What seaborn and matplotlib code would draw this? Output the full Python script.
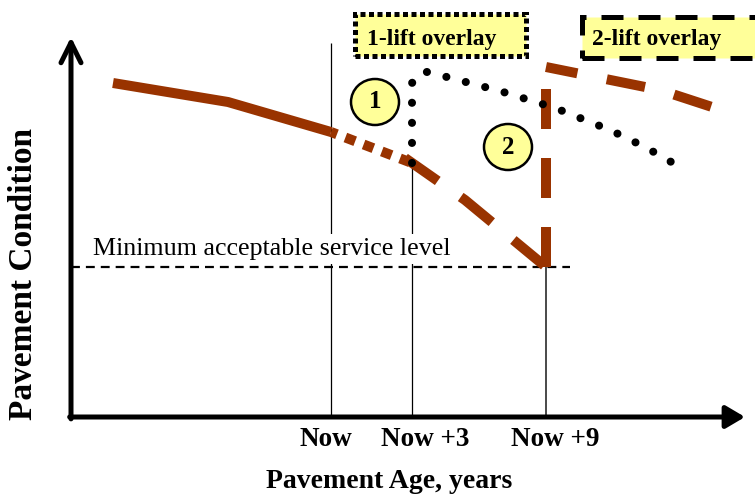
import matplotlib
matplotlib.use("Agg")
import matplotlib.pyplot as plt
from matplotlib.patches import Rectangle, Ellipse
import seaborn as sns

# ---------------- data ----------------
# x = pavement age (arbitrary units), y = pavement condition (arbitrary units)
age_history = [42, 157, 260]
cond_history = [334, 315, 285]

age_defer = [260, 341]
cond_defer = [285, 254]

age_decline = [334, 394, 475]
cond_decline = [259, 217, 150]

age_2lift_jump = [475, 475]
cond_2lift_jump = [150, 328]

age_2lift = [475, 589, 641]
cond_2lift = [350, 327, 310]

age_1lift = [341, 341, 352, 372, 429, 484, 539, 574, 609]
cond_1lift = [254, 334, 346, 341, 326, 309, 287, 270, 250]

min_service_level = 150
min_line_end = 499

marker_ages = [260, 341, 475]          # Now, Now +3, Now +9 reference lines
marker_tops = [374, 254, 150]
tick_positions = [255, 354, 484]
tick_labels = ["Now", "Now +3", "Now +9"]

x_max = 674
y_max = 377

BROWN = "#993300"
YELLOW = "#FFFF99"

# ---------------- style ----------------
sns.set_style("white")
plt.rcParams["font.family"] = ["Liberation Serif", "DejaVu Serif"]
plt.rcParams["text.color"] = "black"
plt.rcParams["axes.labelcolor"] = "black"
plt.rcParams["xtick.color"] = "black"
plt.rcParams["ytick.color"] = "black"

fig = plt.figure(figsize=(7.55, 4.95), dpi=100)
ax = fig.add_axes([71 / 755, 78 / 495, 674 / 755, 377 / 495])
ax.set_xlim(0, x_max)
ax.set_ylim(0, y_max)

# reference vertical lines
ax.vlines(marker_ages, 0, marker_tops, colors=["black", "black", "#3a3a3a"],
          linewidths=[0.9, 0.9, 1.3], zorder=1)

# minimum service level
ax.text(22, 162, "Minimum acceptable service level", fontsize=18.7,
        ha="left", va="baseline", zorder=2,
        bbox=dict(boxstyle="square,pad=0.17", fc="white", ec="none"))
ax.hlines(min_service_level, 0, min_line_end, colors="black", linewidth=1.6,
          linestyles=[(0, (4.0, 2.7))], zorder=3)

# brown condition curves
def brown(xs, ys, ls):
    sns.lineplot(x=xs, y=ys, sort=False, estimator=None, color=BROWN,
                 linewidth=7.2, ax=ax, zorder=4)
    ln = ax.lines[-1]
    ln.set_linestyle(ls)
    ln.set_solid_capstyle("butt")
    ln.set_dash_capstyle("butt")

brown(age_history, cond_history, "-")
brown(age_defer, cond_defer, (0.41, (1.05, 0.9)))
brown(age_decline, cond_decline, (0, (4.0, 2.8)))
brown(age_2lift_jump, cond_2lift_jump, (0, (4.0, 2.9)))
brown(age_2lift, cond_2lift, (0.7, (3.9, 3.0)))

# 1-lift overlay dotted path
sns.lineplot(x=age_1lift, y=cond_1lift, sort=False, estimator=None,
             color="black", linewidth=5.8, ax=ax, zorder=5)
dl = ax.lines[-1]
dl.set_linestyle((0, (0.01, 2.48)))
dl.set_dash_capstyle("round")

# numbered circles
for (cx, cy), lab in [((304, 315), "1"), ((437, 270), "2")]:
    ax.add_patch(Ellipse((cx, cy), 48, 46, fc=YELLOW, ec="black", lw=1.8,
                         zorder=6, clip_on=False))
    ax.text(cx, cy, lab, fontsize=18, fontweight="bold", ha="center",
            va="center", zorder=7)

# overlay labels
ax.add_patch(Rectangle((283.5, 361.5), 171, 42, fc=YELLOW, ec="black", lw=3.6,
                       ls=(0, (1.0, 0.7)), zorder=6, clip_on=False))
ax.text(361, 372, "1-lift overlay", fontsize=17, fontweight="bold",
        ha="center", va="baseline", zorder=7, clip_on=False)
ax.add_patch(Rectangle((511, 359), 185, 41, fc=YELLOW, ec="black", lw=3.6,
                       ls=(0, (4.4, 3.0)), zorder=6, clip_on=False))
ax.text(586, 372, "2-lift overlay", fontsize=17, fontweight="bold",
        ha="center", va="baseline", zorder=7, clip_on=False)

# axes arrows
ax.annotate("", xy=(0, 1.008), xytext=(0, -0.005), xycoords="axes fraction",
            arrowprops=dict(arrowstyle="->,head_length=1.45,head_width=0.72",
                            lw=3.6, color="black", shrinkA=0, shrinkB=0),
            annotation_clip=False)
ax.annotate("", xy=(1, 0), xytext=(-0.002, 0), xycoords="axes fraction",
            arrowprops=dict(arrowstyle="-|>,head_length=1.15,head_width=0.68",
                            lw=3.6, color="black", shrinkA=0, shrinkB=0),
            annotation_clip=False)

# ticks and axis titles
for s in ax.spines.values():
    s.set_visible(False)
ax.set_yticks([])
ax.set_xticks(tick_positions)
ax.set_xticklabels(tick_labels, fontsize=19.5, fontweight="bold")
ax.tick_params(axis="x", length=0, pad=7)

ax.set_xlabel("Pavement Age, years", fontsize=20, fontweight="bold")
ax.xaxis.set_label_coords(0.472, -0.137)
ax.set_ylabel("")
ax.text(-0.0712, 0.379, "Pavement Condition", transform=ax.transAxes,
        rotation=90, fontsize=24, fontweight="bold", ha="center", va="center",
        clip_on=False)

fig.savefig("out.png", dpi=100)
